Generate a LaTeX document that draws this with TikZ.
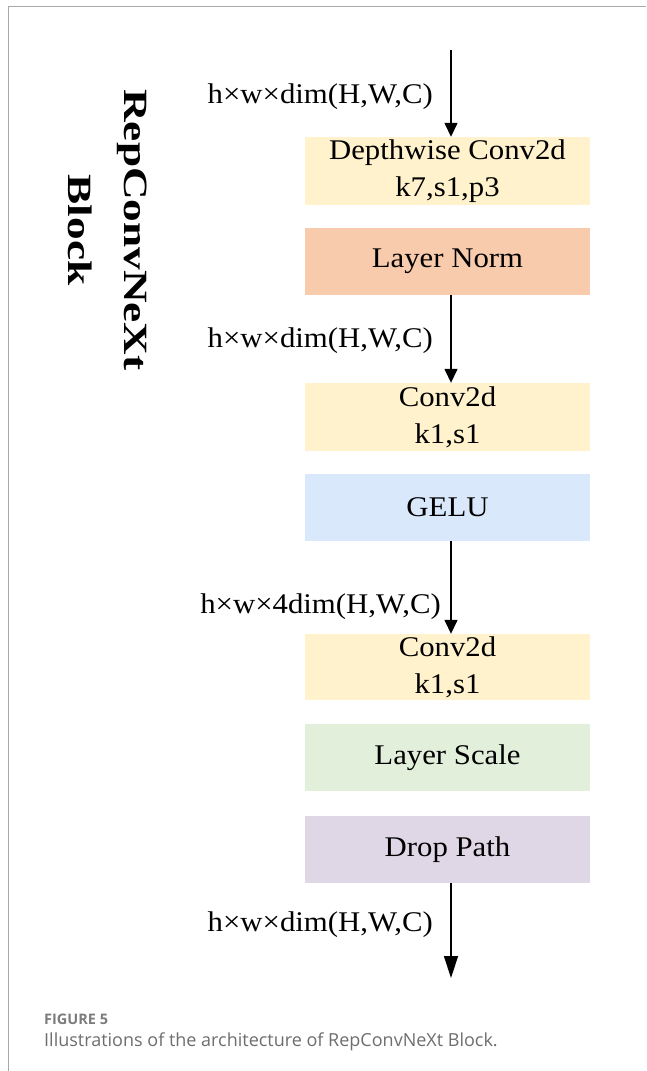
\documentclass[tikz,border=0pt]{standalone}
\usepackage{fontspec}
\setmainfont{Liberation Serif}
\newfontfamily\diag[FakeStretch=1.08]{Liberation Serif}
\newfontfamily\titlefont[FakeStretch=1.33]{Liberation Serif}
\newfontfamily\capfont{Open Sans}
\usetikzlibrary{arrows.meta}
\definecolor{cyellow}{HTML}{FFF2CC}
\definecolor{cpeach}{HTML}{F8CBAD}
\definecolor{cblue}{HTML}{DAE8FC}
\definecolor{cgreen}{HTML}{E2EFDA}
\definecolor{cpurple}{HTML}{DFD6E6}
\definecolor{cframe}{HTML}{A8A8A8}
\definecolor{ccap}{HTML}{6E6E6E}
\begin{document}
\begin{tikzpicture}[x=1pt,y=-1pt,
  blk/.style={minimum width=285pt, minimum height=67pt, inner sep=0pt, align=center,
    font=\diag\fontsize{28.5}{37}\selectfont},
  lbl/.style={anchor=east, inner sep=0pt, font=\diag\fontsize{28.5}{34}\selectfont},
  flow/.style={line width=1.4pt, -{Triangle[width=13pt,length=14pt]}},
  bigflow/.style={line width=1.4pt, -{Triangle[width=14pt,length=22pt]}}]
\useasboundingbox (0,0) rectangle (646,1071);
\fill[white] (0,0) rectangle (646,1071);
\draw[cframe, line width=1pt] (646,6) -- (8,6) -- (8,1071);

\node[blk, fill=cyellow, minimum height=68pt] (dw) at (447.5,171) {Depthwise Conv2d\\k7,s1,p3};
\node[blk, fill=cpeach] (ln) at (447.5,261.5) {Layer Norm};
\node[blk, fill=cyellow, minimum height=68pt] (c1) at (447.5,417) {Conv2d\\k1,s1};
\node[blk, fill=cblue] (gelu) at (447.5,507.5) {GELU};
\node[blk, fill=cyellow, minimum height=66pt] (c2) at (447.5,667) {Conv2d\\k1,s1};
\node[blk, fill=cgreen] (ls) at (447.5,757.5) {Layer Scale};
\node[blk, fill=cpurple] (dp) at (447.5,849.5) {Drop Path};

\coordinate (in) at (451,50);
\coordinate (out) at (451,978);
\draw[flow] (in) -- (in |- dw.north);
\draw[flow] (in |- ln.south) -- (in |- c1.north);
\draw[flow] (in |- gelu.south) -- (in |- c2.north);
\draw[bigflow] (in |- dp.south) -- (out);

\node[lbl] (l1) at (433,97) {h×w×dim(H,W,C)};
\node[lbl] (l2) at (433,341) {h×w×dim(H,W,C)};
\node[lbl] (l3) at (441,607) {h×w×4dim(H,W,C)};
\node[lbl] (l4) at (433,925) {h×w×dim(H,W,C)};

\node[rotate=-90, align=center, inner sep=0pt, font=\titlefont\bfseries\fontsize{34}{56}\selectfont] (title) at (108,230) {RepConvNeXt\\Block};

\node[anchor=west, inner sep=0pt, text=ccap!90!white, font=\capfont\fontsize{14.5}{17}\selectfont\bfseries] (fig) at (44,1019) {FIGURE 5};
\node[anchor=west, inner sep=0pt, text=ccap, font=\capfont\fontsize{18}{22}\selectfont] (cap) at (44,1042) {Illustrations of the architecture of RepConvNeXt Block.};
\end{tikzpicture}
\end{document}
